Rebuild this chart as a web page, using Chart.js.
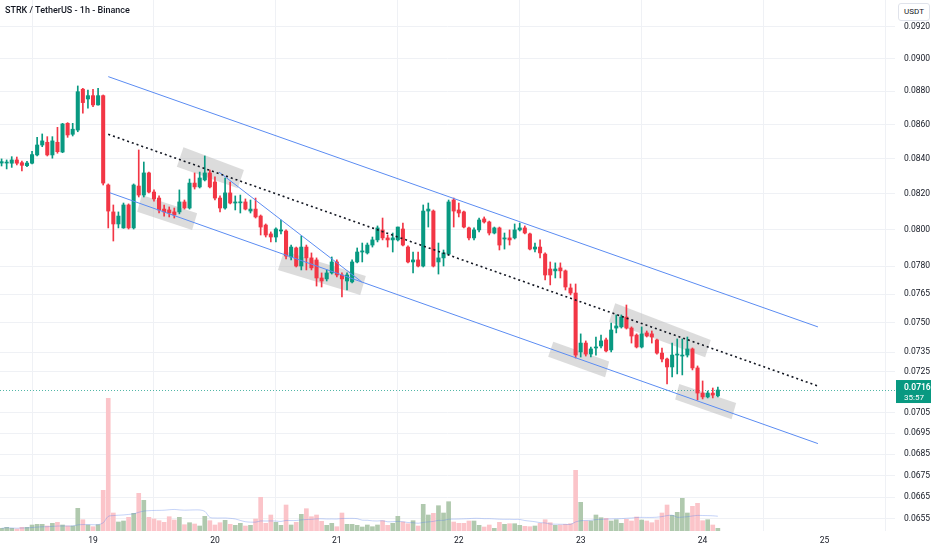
<!DOCTYPE html>
<html>
<head>
<meta charset="utf-8">
<title>STRK / TetherUS - 1h - Binance</title>
<script src="https://cdn.jsdelivr.net/npm/chart.js@4.4.1/dist/chart.umd.min.js"></script>
<style>
  html, body { margin: 0; padding: 0; background: #ffffff; }
  #wrap { position: relative; width: 932px; height: 550px; }
  #titulo { position: absolute; left: 5px; top: 5px; font: 500 9px Roboto, sans-serif; color: #131722; white-space: nowrap; }
  #moeda { position: absolute; left: 898px; top: 3px; width: 30px; height: 16px; border: 1px solid #e0e3eb; border-radius: 3px;
           font: 8px Roboto, sans-serif; line-height: 16px; text-align: center; color: #131722; background: #fff; }
</style>
</head>
<body>
<div id="wrap">
  <canvas id="grafico"></canvas>
  <div id="titulo">STRK / TetherUS - 1h - Binance</div>
  <div id="moeda">USDT</div>
</div>
<script>
// hourly candles, first one is 18th 06:00 (hour -18 relative to the 19th 00:00)
const firstHour = -18;

const opens = [
	0.08375, 0.08375, 0.08374, 0.08393, 0.08377, 0.08360, 0.08374, 0.08422, 0.08480, 0.08496,
	0.08422, 0.08496, 0.08439, 0.08608, 0.08543, 0.08568, 0.08813, 0.08754, 0.08774, 0.08718,
	0.08774, 0.08249, 0.08097, 0.08030, 0.08008, 0.08136, 0.08008, 0.08243, 0.08192, 0.08318,
	0.08209, 0.08175, 0.08113, 0.08108, 0.08097, 0.08097, 0.08153, 0.08119, 0.08260, 0.08238,
	0.08278, 0.08318, 0.08266, 0.08175, 0.08119, 0.08204, 0.08147, 0.08148, 0.08153, 0.08102,
	0.08113, 0.08074, 0.08024, 0.07975, 0.07958, 0.07991, 0.07991, 0.07849, 0.07898, 0.07800,
	0.07903, 0.07844, 0.07833, 0.07736, 0.07731, 0.07763, 0.07822, 0.07752, 0.07720, 0.07715,
	0.07822, 0.07876, 0.07871, 0.07914, 0.07942, 0.07997, 0.07953, 0.07942, 0.07942, 0.08002,
	0.07903, 0.07822, 0.07833, 0.07800, 0.08102, 0.08102, 0.07822, 0.07844, 0.07865, 0.08164,
	0.08108, 0.08097, 0.08008, 0.07953, 0.07997, 0.08058, 0.08041, 0.07980, 0.08008, 0.07947,
	0.07953, 0.07953, 0.07997, 0.08008, 0.07975, 0.07892, 0.07903, 0.07865, 0.07784, 0.07774,
	0.07790, 0.07774, 0.07683, 0.07656, 0.07351, 0.07396, 0.07340, 0.07371, 0.07381, 0.07412,
	0.07361, 0.07473, 0.07479, 0.07530, 0.07473, 0.07437, 0.07376, 0.07448, 0.07443, 0.07412,
	0.07345, 0.07315, 0.07275, 0.07335, 0.07330, 0.07335, 0.07366, 0.07270, 0.07145, 0.07126,
	0.07145, 0.07131
];
const highs = [
	0.08399, 0.08393, 0.08412, 0.08410, 0.08387, 0.08385, 0.08443, 0.08525, 0.08545, 0.08529,
	0.08529, 0.08584, 0.08608, 0.08612, 0.08608, 0.08833, 0.08819, 0.08808, 0.08813, 0.08819,
	0.08778, 0.08255, 0.08136, 0.08097, 0.08147, 0.08142, 0.08255, 0.08451, 0.08381, 0.08323,
	0.08221, 0.08187, 0.08136, 0.08125, 0.08119, 0.08221, 0.08164, 0.08283, 0.08318, 0.08323,
	0.08416, 0.08335, 0.08295, 0.08187, 0.08289, 0.08266, 0.08187, 0.08192, 0.08170, 0.08164,
	0.08175, 0.08080, 0.08030, 0.07986, 0.08008, 0.08052, 0.07997, 0.07914, 0.07903, 0.07964,
	0.07914, 0.07871, 0.07844, 0.07763, 0.07779, 0.07849, 0.07833, 0.07763, 0.07763, 0.07833,
	0.07898, 0.07925, 0.07925, 0.07958, 0.08019, 0.08063, 0.07969, 0.07980, 0.08013, 0.08035,
	0.07909, 0.07876, 0.07876, 0.08136, 0.08147, 0.08108, 0.07925, 0.07887, 0.08164, 0.08175,
	0.08147, 0.08102, 0.08013, 0.08008, 0.08063, 0.08069, 0.08046, 0.08013, 0.08013, 0.07980,
	0.07997, 0.08030, 0.08035, 0.08019, 0.07980, 0.07925, 0.07942, 0.07871, 0.07822, 0.07817,
	0.07817, 0.07779, 0.07704, 0.07704, 0.07443, 0.07407, 0.07376, 0.07427, 0.07437, 0.07422,
	0.07499, 0.07541, 0.07541, 0.07593, 0.07479, 0.07443, 0.07479, 0.07458, 0.07458, 0.07417,
	0.07371, 0.07320, 0.07396, 0.07417, 0.07417, 0.07427, 0.07371, 0.07280, 0.07205, 0.07155,
	0.07170, 0.07175
];
const lows = [
	0.08358, 0.08341, 0.08350, 0.08364, 0.08329, 0.08354, 0.08370, 0.08416, 0.08470, 0.08416,
	0.08403, 0.08432, 0.08435, 0.08525, 0.08533, 0.08558, 0.08668, 0.08698, 0.08707, 0.08716,
	0.08249, 0.08008, 0.07936, 0.08008, 0.08006, 0.08002, 0.08002, 0.08181, 0.08181, 0.08204,
	0.08158, 0.08091, 0.08074, 0.08069, 0.08063, 0.08086, 0.08113, 0.08113, 0.08226, 0.08232,
	0.08272, 0.08232, 0.08164, 0.08097, 0.08113, 0.08142, 0.08108, 0.08091, 0.08108, 0.08091,
	0.08063, 0.07969, 0.07958, 0.07931, 0.07931, 0.07975, 0.07838, 0.07833, 0.07795, 0.07779,
	0.07779, 0.07779, 0.07693, 0.07688, 0.07720, 0.07757, 0.07741, 0.07635, 0.07672, 0.07709,
	0.07817, 0.07822, 0.07865, 0.07903, 0.07931, 0.07942, 0.07903, 0.07876, 0.07936, 0.07909,
	0.07817, 0.07763, 0.07795, 0.07795, 0.08013, 0.07795, 0.07757, 0.07800, 0.07860, 0.08013,
	0.08069, 0.08008, 0.07942, 0.07942, 0.07986, 0.08035, 0.07969, 0.07975, 0.07887, 0.07892,
	0.07914, 0.07947, 0.07991, 0.07975, 0.07887, 0.07876, 0.07844, 0.07725, 0.07699, 0.07736,
	0.07736, 0.07672, 0.07646, 0.07320, 0.07325, 0.07330, 0.07325, 0.07335, 0.07371, 0.07351,
	0.07351, 0.07448, 0.07473, 0.07468, 0.07396, 0.07371, 0.07371, 0.07427, 0.07396, 0.07340,
	0.07300, 0.07190, 0.07225, 0.07240, 0.07235, 0.07325, 0.07260, 0.07111, 0.07116, 0.07121,
	0.07121, 0.07126
];
const closes = [
	0.08383, 0.08379, 0.08393, 0.08374, 0.08362, 0.08375, 0.08424, 0.08480, 0.08504, 0.08422,
	0.08504, 0.08441, 0.08604, 0.08539, 0.08573, 0.08798, 0.08732, 0.08774, 0.08718, 0.08774,
	0.08260, 0.08102, 0.08030, 0.08074, 0.08136, 0.08008, 0.08249, 0.08192, 0.08318, 0.08209,
	0.08170, 0.08108, 0.08097, 0.08091, 0.08080, 0.08153, 0.08119, 0.08260, 0.08238, 0.08289,
	0.08318, 0.08238, 0.08175, 0.08119, 0.08204, 0.08147, 0.08153, 0.08152, 0.08113, 0.08113,
	0.08069, 0.08013, 0.07969, 0.07958, 0.08002, 0.07997, 0.07854, 0.07903, 0.07800, 0.07903,
	0.07844, 0.07790, 0.07736, 0.07720, 0.07763, 0.07822, 0.07752, 0.07731, 0.07752, 0.07822,
	0.07876, 0.07882, 0.07914, 0.07942, 0.08008, 0.07953, 0.07942, 0.07953, 0.08013, 0.07914,
	0.07822, 0.07833, 0.07800, 0.08102, 0.08113, 0.07800, 0.07844, 0.07871, 0.08153, 0.08102,
	0.08091, 0.08013, 0.07953, 0.07997, 0.08052, 0.08041, 0.07980, 0.08008, 0.07914, 0.07953,
	0.07942, 0.07997, 0.08008, 0.07980, 0.07892, 0.07903, 0.07871, 0.07752, 0.07752, 0.07784,
	0.07774, 0.07688, 0.07656, 0.07335, 0.07396, 0.07340, 0.07366, 0.07376, 0.07407, 0.07356,
	0.07463, 0.07484, 0.07530, 0.07473, 0.07432, 0.07376, 0.07443, 0.07432, 0.07427, 0.07345,
	0.07315, 0.07275, 0.07335, 0.07340, 0.07335, 0.07366, 0.07270, 0.07145, 0.07126, 0.07145,
	0.07135, 0.07160
];
// volume, millions of STRK
const volumes = [
	0.27, 0.37, 0.27, 0.20, 0.37, 0.37, 0.60, 0.67, 0.67, 0.50,
	0.77, 0.87, 0.60, 0.50, 0.50, 2.27, 1.13, 0.60, 0.43, 0.63,
	4.07, 13.27, 1.80, 0.90, 1.00, 1.37, 1.77, 3.77, 3.07, 1.37,
	1.20, 1.03, 0.87, 1.43, 1.10, 1.37, 0.63, 0.83, 0.70, 0.50,
	1.47, 1.03, 0.60, 0.83, 1.07, 0.67, 0.57, 0.77, 0.50, 0.57,
	1.20, 3.37, 0.77, 1.60, 0.87, 0.57, 2.60, 0.60, 0.87, 1.67,
	2.23, 1.43, 1.60, 0.97, 0.57, 0.77, 0.43, 1.80, 0.67, 0.67,
	0.57, 0.40, 0.60, 0.43, 0.60, 1.03, 0.57, 0.77, 1.47, 0.90,
	0.73, 1.03, 0.50, 2.67, 1.60, 1.77, 2.53, 1.80, 2.93, 0.90,
	0.77, 0.77, 1.00, 1.00, 0.57, 0.40, 0.60, 0.27, 0.87, 0.67,
	0.73, 0.73, 0.57, 0.47, 0.43, 0.50, 0.77, 1.13, 0.83, 0.57,
	0.60, 0.67, 0.73, 6.07, 2.87, 1.00, 1.00, 1.60, 1.33, 1.27,
	1.00, 1.13, 0.77, 1.17, 1.00, 1.40, 1.10, 1.00, 0.83, 1.10,
	1.80, 2.60, 1.57, 1.87, 3.27, 1.80, 2.47, 2.77, 1.03, 1.13,
	0.60, 0.27
];

const priceTicks = [0.0920, 0.0900, 0.0880, 0.0860, 0.0840, 0.0820, 0.0800, 0.0780, 0.0765, 0.0750,
	0.0735, 0.0725, 0.0705, 0.0695, 0.0685, 0.0675, 0.0665, 0.0655];
const dayTicks = [0, 24, 48, 72, 96, 120, 144];
const dayLabels = ['19', '20', '21', '22', '23', '24', '25'];

const lastPrice = 0.0716;
const countdown = '35:57';

// drawings: [hour, price]
const upperChannel = [[3.0, 0.08890], [142.7, 0.07479]];
const middleLine = [[3.0, 0.08543], [142.7, 0.07180]];
const lowerChannel = [[3.3, 0.08205], [142.7, 0.06900]];
const trendLine = [[24.8, 0.08323], [52.9, 0.07715]];
const boxes = [
	[[9.6, 0.08192], [20.5, 0.08089], [19.5, 0.07997], [8.7, 0.08098]],
	[[17.8, 0.08467], [29.7, 0.08335], [28.5, 0.08230], [16.5, 0.08354]],
	[[37.6, 0.07882], [53.7, 0.07747], [52.6, 0.07646], [36.4, 0.07779]],
	[[90.6, 0.07403], [101.6, 0.07302], [100.8, 0.07223], [89.6, 0.07327]],
	[[102.8, 0.07602], [121.6, 0.07412], [120.5, 0.07324], [101.6, 0.07506]],
	[[115.4, 0.07190], [126.6, 0.07096], [125.7, 0.07017], [114.6, 0.07113]]
];

const UP = '#089981';
const DOWN = '#F23645';

const hours = opens.map((o, i) => firstHour + i);
const candleColors = opens.map((o, i) => closes[i] >= o ? UP : DOWN);
const volumeColors = opens.map((o, i) => closes[i] >= o ? '#b0c9ae' : '#fbc4c9');

// 20 period volume average
const volumeMA = volumes.map((v, i) => {
	const janela = volumes.slice(Math.max(0, i - 19), i + 1);
	return janela.reduce((a, b) => a + b, 0) / janela.length;
});

function pontos(lista) {
	return lista.map(p => ({ x: p[0], y: p[1] }));
}

const desenhos = {
	id: 'desenhos',
	beforeDatasetsDraw(chart) {
		const { ctx, chartArea, scales } = chart;
		const x = scales.x, y = scales.y;
		ctx.save();
		ctx.beginPath();
		ctx.rect(chartArea.left, chartArea.top, chartArea.width, chartArea.height);
		ctx.clip();

		ctx.fillStyle = 'rgba(185,185,185,0.5)';
		boxes.forEach(box => {
			ctx.beginPath();
			box.forEach((p, i) => {
				const px = x.getPixelForValue(p[0]);
				const py = y.getPixelForValue(p[1]);
				if (i === 0) ctx.moveTo(px, py); else ctx.lineTo(px, py);
			});
			ctx.closePath();
			ctx.fill();
		});

		// last price line
		const py = Math.round(y.getPixelForValue(lastPrice)) + 0.5;
		ctx.strokeStyle = 'rgba(8,153,129,0.7)';
		ctx.lineWidth = 1;
		ctx.setLineDash([1, 2]);
		ctx.beginPath();
		ctx.moveTo(chartArea.left, py);
		ctx.lineTo(chartArea.right, py);
		ctx.stroke();
		ctx.restore();
	},
	afterDraw(chart) {
		const { ctx, chartArea, scales } = chart;
		const py = scales.y.getPixelForValue(lastPrice);
		const left = chartArea.right + 1;
		ctx.save();
		ctx.fillStyle = UP;
		ctx.fillRect(left, py - 10, 35, 23);
		ctx.fillStyle = '#ffffff';
		ctx.textBaseline = 'middle';
		ctx.textAlign = 'left';
		ctx.font = '600 8.5px Roboto, sans-serif';
		ctx.fillText(lastPrice.toFixed(4), left + 8, py - 2);
		ctx.font = '8px Roboto, sans-serif';
		ctx.fillText(countdown, left + 8, py + 8);
		ctx.restore();
	}
};

const ctx = document.getElementById('grafico').getContext('2d');
new Chart(ctx, {
	type: 'bar',
	data: {
		datasets: [
			{
				label: 'corpo',
				data: hours.map((h, i) => ({ x: h, y: [opens[i], closes[i]] })),
				backgroundColor: candleColors,
				barThickness: 3.4,
				minBarLength: 1,
				grouped: false,
				yAxisID: 'y',
				order: 2
			},
			{
				label: 'pavio',
				data: hours.map((h, i) => ({ x: h, y: [lows[i], highs[i]] })),
				backgroundColor: candleColors,
				barThickness: 1,
				minBarLength: 1,
				grouped: false,
				yAxisID: 'y',
				order: 3
			},
			{
				label: 'volume',
				data: hours.map((h, i) => ({ x: h, y: volumes[i] })),
				backgroundColor: volumeColors,
				barThickness: 4,
				grouped: false,
				yAxisID: 'yv',
				order: 6
			},
			{
				type: 'line',
				label: 'media volume',
				data: hours.map((h, i) => ({ x: h, y: volumeMA[i] })),
				borderColor: 'rgba(90,130,235,0.35)',
				borderWidth: 1,
				pointRadius: 0,
				tension: 0.3,
				yAxisID: 'yv',
				order: 5
			},
			{
				type: 'line', label: 'canal superior', data: pontos(upperChannel),
				borderColor: '#5b8cf2', borderWidth: 1, pointRadius: 0, yAxisID: 'y', order: 1
			},
			{
				type: 'line', label: 'canal inferior', data: pontos(lowerChannel),
				borderColor: '#5b8cf2', borderWidth: 1, pointRadius: 0, yAxisID: 'y', order: 1
			},
			{
				type: 'line', label: 'linha media', data: pontos(middleLine),
				borderColor: '#131722', borderWidth: 1.6, borderDash: [2, 3], pointRadius: 0, yAxisID: 'y', order: 1
			},
			{
				type: 'line', label: 'tendencia', data: pontos(trendLine),
				borderColor: '#5b8cf2', borderWidth: 1, pointRadius: 0, yAxisID: 'y', order: 1
			}
		]
	},
	options: {
		animation: false,
		responsive: true,
		maintainAspectRatio: false,
		layout: { padding: 0 },
		plugins: {
			legend: { display: false },
			tooltip: { enabled: false }
		},
		scales: {
			x: {
				type: 'linear',
				min: -18.31,
				max: 157.87,
				bounds: 'data',
				offset: false,
				border: { display: false },
				grid: { color: '#eff1f5', drawTicks: false },
				ticks: {
					autoSkip: false,
					maxRotation: 0,
					padding: 5,
					color: '#131722',
					font: { family: 'Roboto', size: 8.5 },
					callback: (v) => dayLabels[dayTicks.indexOf(v)]
				},
				afterBuildTicks: (s) => { s.ticks = dayTicks.map(v => ({ value: v })); },
				afterFit: (s) => { s.height = 19; s.paddingLeft = 0; s.paddingRight = 0; }
			},
			y: {
				type: 'logarithmic',
				position: 'right',
				min: 0.064958,
				max: 0.093731,
				bounds: 'data',
				border: { display: false },
				grid: { color: '#eff1f5', drawTicks: false },
				ticks: {
					autoSkip: false,
					padding: 9,
					color: '#131722',
					font: { family: 'Roboto', size: 8.5 },
					callback: (v) => Number(v).toFixed(4)
				},
				afterBuildTicks: (s) => { s.ticks = priceTicks.map(v => ({ value: v })); },
				afterFit: (s) => { s.width = 37; s.paddingTop = 0; s.paddingBottom = 0; }
			},
			yv: {
				type: 'linear',
				display: false,
				min: 0,
				max: 53.1
			}
		}
	},
	plugins: [desenhos]
});
</script>
</body>
</html>
